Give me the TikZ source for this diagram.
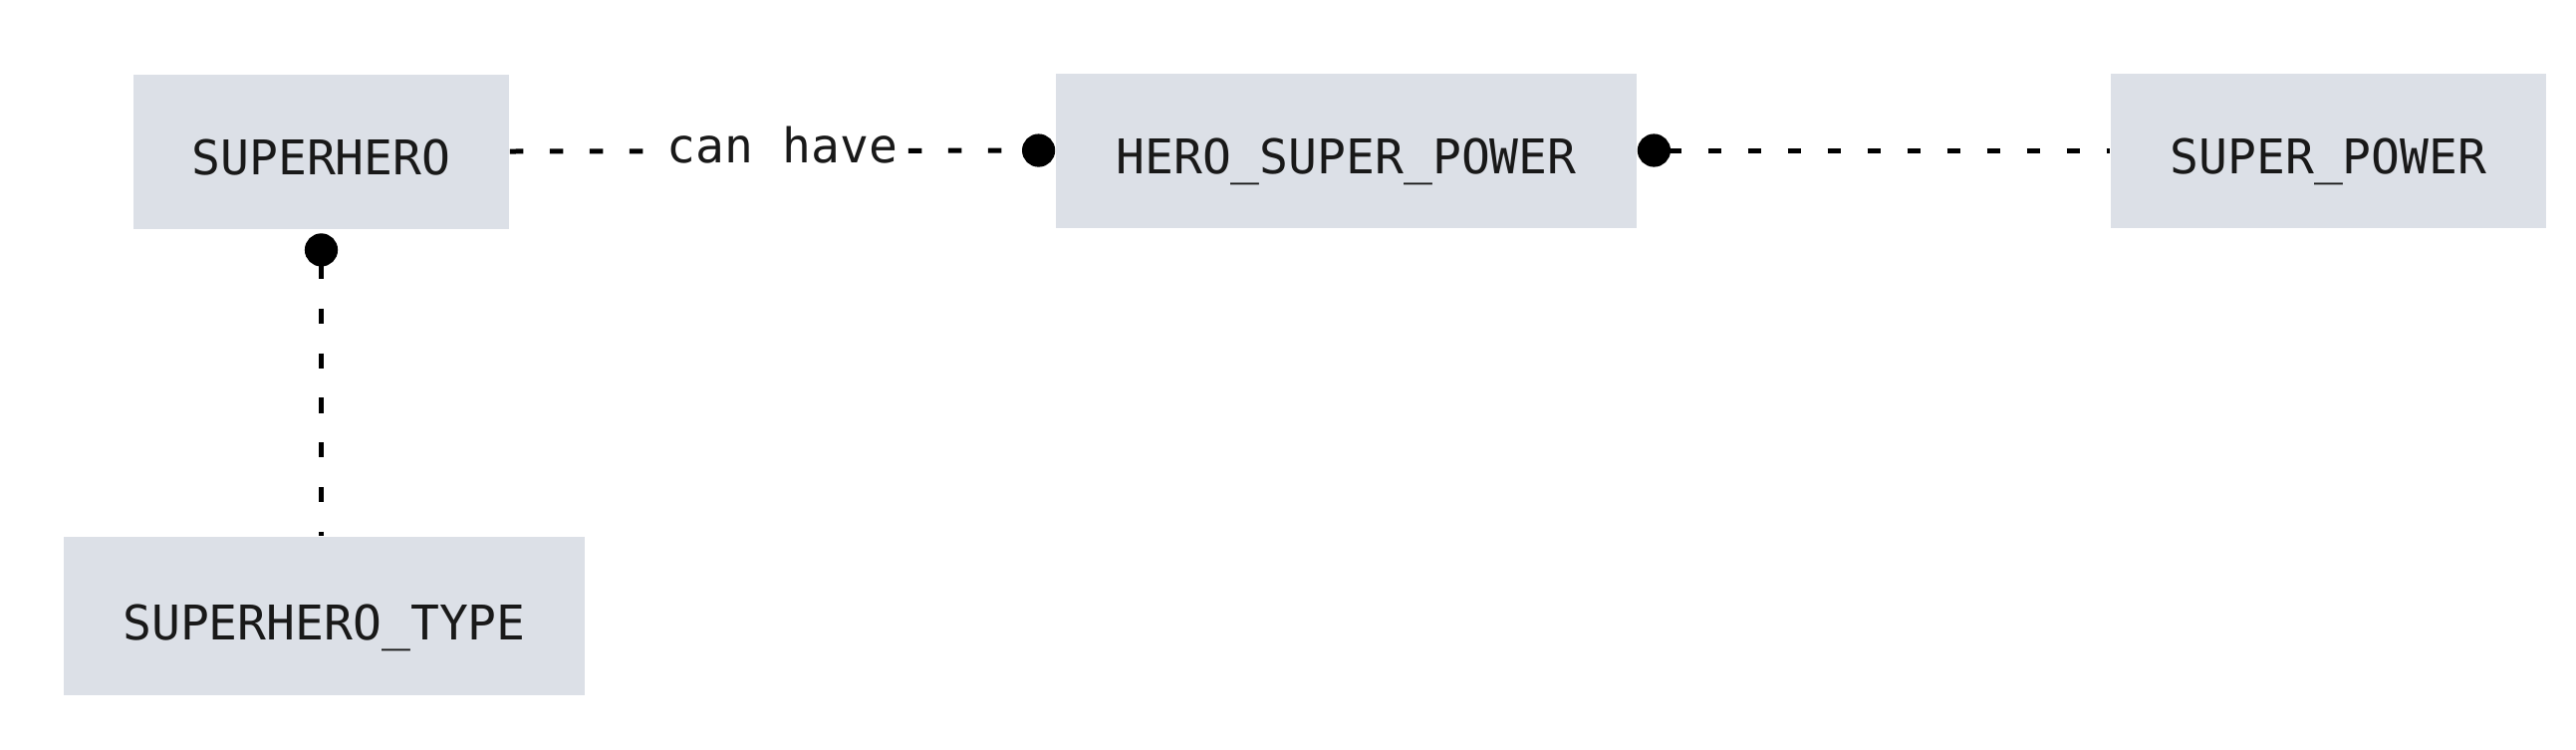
\documentclass[tikz,border=0pt]{standalone}
\usepackage{fontspec}
\setmonofont{DejaVu Sans Mono}
\usetikzlibrary{arrows.meta}
\definecolor{boxfill}{RGB}{220,224,231}
\tikzset{
  entity/.style={draw=none, fill=boxfill, minimum height=38.75pt, inner sep=0pt, text height=11.8pt, text depth=0pt, font=\ttfamily\fontsize{12pt}{14pt}\selectfont, text=black!90},
  conn/.style={line width=1.25pt, dash pattern=on 3.4pt off 6.6pt, black},
  vconn/.style={line width=1.25pt, dash pattern=on 3.8pt off 7.4pt, black},
  lbl/.style={fill=white, inner sep=1pt, font=\ttfamily\fontsize{12pt}{14pt}\selectfont, text=black!90}
}
\begin{document}
\begin{tikzpicture}[x=0.25pt,y=-0.25pt]
\useasboundingbox (0,0) rectangle (2586,752);
\node[entity, minimum width=94.25pt] (sh) at (322.5,152) {SUPERHERO};
\node[entity, minimum width=145.75pt] (hsp) at (1351.5,151) {HERO\_SUPER\_POWER};
\node[entity, minimum width=109.25pt] (sp) at (2337.5,151) {SUPER\_POWER};
\node[entity, minimum width=130.75pt, minimum height=39.75pt] (sht) at (325.5,618.5) {SUPERHERO\_TYPE};
\draw[conn, -{Circle[length=8.3pt]}] (sh.east) -- node[lbl, yshift=1.5pt] {can have} (hsp.west);
\draw[conn, {Circle[length=8.3pt]}-] (hsp.east) -- (sp.west);
\draw[vconn, {Circle[length=8.3pt]}-, shorten <=1pt] (sh.south) -- (sh.south |- sht.north);
\end{tikzpicture}
\end{document}
